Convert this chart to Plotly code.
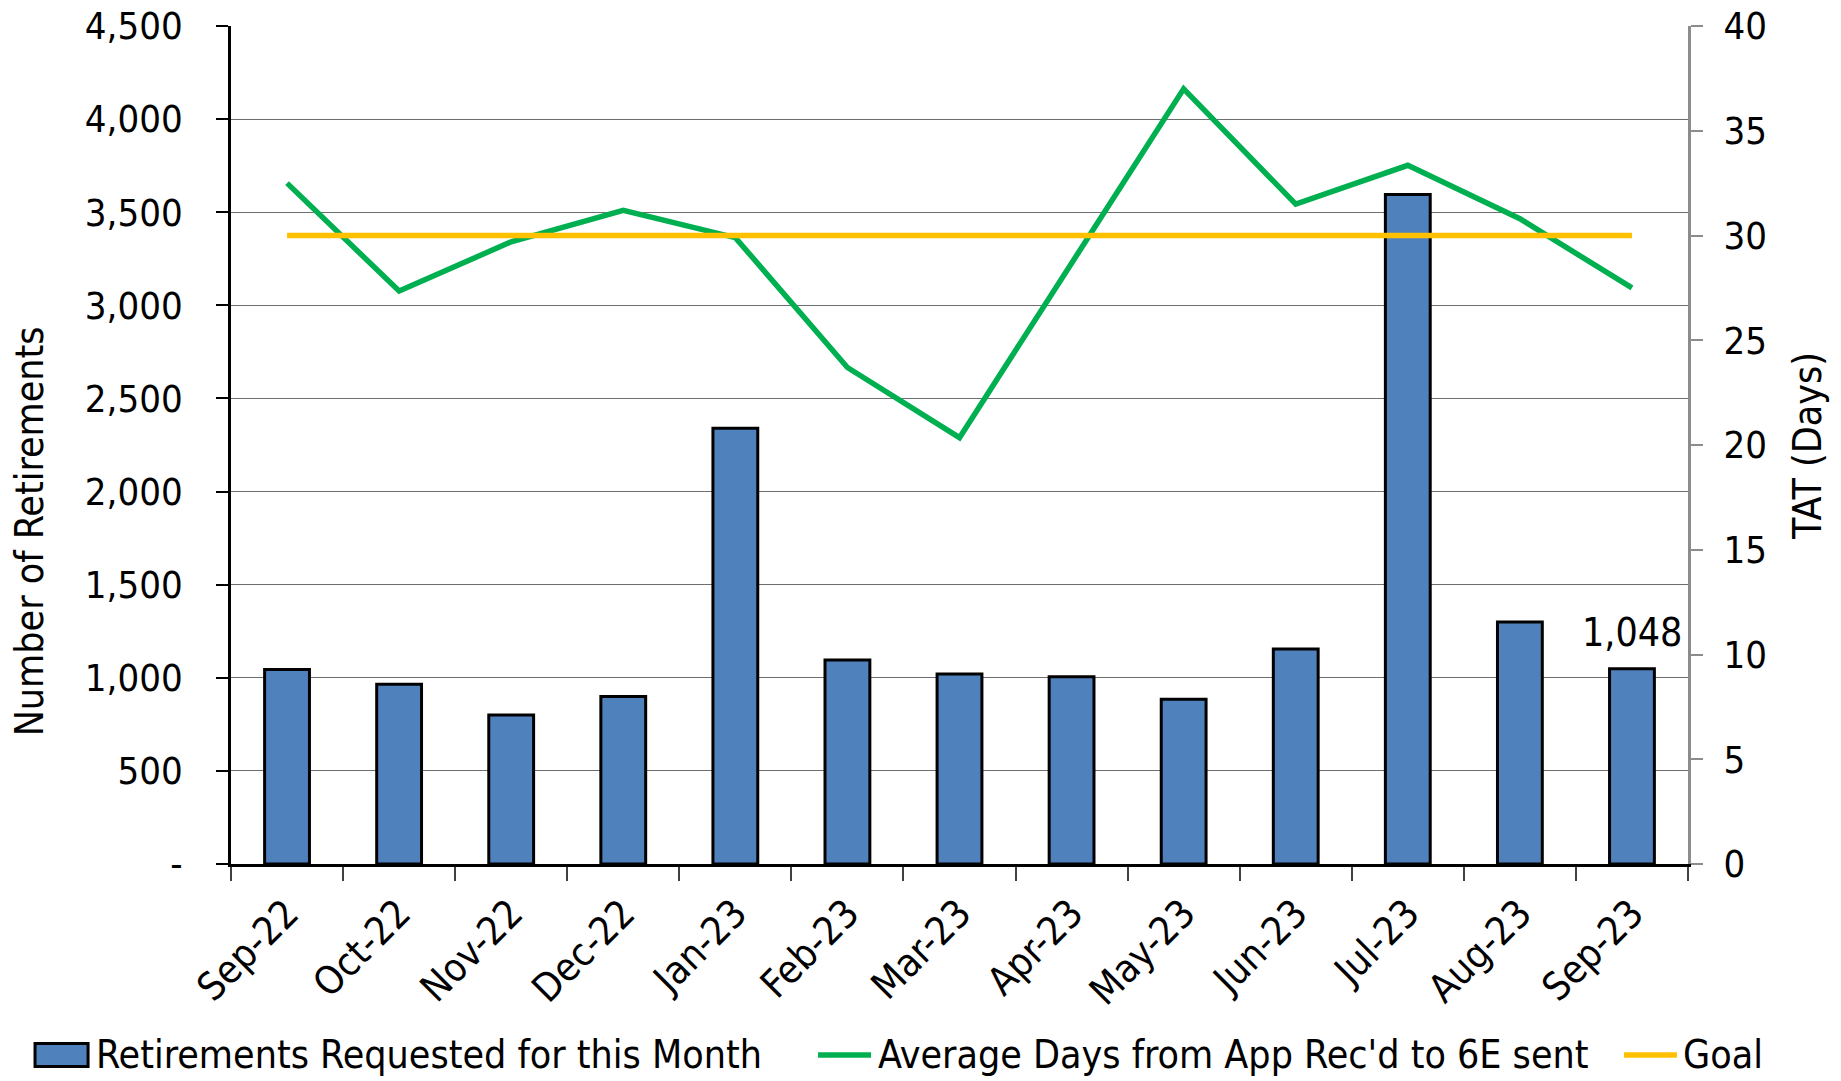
import plotly.graph_objects as go

months = ["Sep-22", "Oct-22", "Nov-22", "Dec-22", "Jan-23", "Feb-23", "Mar-23",
          "Apr-23", "May-23", "Jun-23", "Jul-23", "Aug-23", "Sep-23"]
retirements = [1045, 965, 800, 900, 2340, 1095, 1020, 1005, 885, 1155, 3595, 1300, 1048]
avg_days = [32.5, 27.35, 29.7, 31.2, 29.9, 23.7, 20.35, 28.7, 37.0, 31.5, 33.35, 30.8, 27.5]
goal = [30] * 13

left_ticks = [0, 500, 1000, 1500, 2000, 2500, 3000, 3500, 4000, 4500]
left_ticktext = ["-", "500", "1,000", "1,500", "2,000", "2,500", "3,000", "3,500", "4,000", "4,500"]
right_ticks = [0, 5, 10, 15, 20, 25, 30, 35, 40]

FONT = "DejaVu Sans Condensed, Liberation Sans Narrow, Arial Narrow, sans-serif"
FS = 38
LFS = 39

fig = go.Figure()
fig.add_trace(go.Bar(
    x=months, y=retirements, name="Retirements Requested for this Month",
    marker=dict(color="#4F81BD", line=dict(color="black", width=3)),
    yaxis="y",
))
fig.add_trace(go.Scatter(
    x=months, y=avg_days, name="Average Days from App Rec'd to 6E sent",
    mode="lines", line=dict(color="#00B050", width=5.5), yaxis="y2",
))
fig.add_trace(go.Scatter(
    x=months, y=goal, name="Goal",
    mode="lines", line=dict(color="#FFC000", width=5.5), yaxis="y2",
))

# data label on the last bar
fig.add_annotation(x=months[-1], y=retirements[-1], xref="x", yref="y",
                   text=f"{retirements[-1]:,}", showarrow=False, yshift=36,
                   font=dict(family=FONT, size=LFS, color="black"))

# axis titles
fig.add_annotation(x=-0.1386, y=0.397, xref="paper", yref="paper", text="Number of Retirements",
                   textangle=-90, showarrow=False, xanchor="center", yanchor="middle",
                   font=dict(family=FONT, size=LFS, color="black"))
fig.add_annotation(x=1.0824, y=0.499, xref="paper", yref="paper", text="TAT (Days)",
                   textangle=-90, showarrow=False, xanchor="center", yanchor="middle",
                   font=dict(family=FONT, size=LFS, color="black"))

# custom legend
ly = -0.2279
fig.add_shape(type="rect", xref="paper", yref="paper", x0=-0.1345, x1=-0.0981,
              y0=ly - 0.0137, y1=ly + 0.0137, fillcolor="#4F81BD",
              line=dict(color="black", width=3))
fig.add_annotation(x=-0.094, y=ly, xref="paper", yref="paper", xanchor="left", yanchor="middle",
                   text="Retirements Requested for this Month", showarrow=False,
                   font=dict(family=FONT, size=LFS, color="black"))
fig.add_shape(type="line", xref="paper", yref="paper", x0=0.4029, x1=0.4393, y0=ly, y1=ly,
              line=dict(color="#00B050", width=5.5))
fig.add_annotation(x=0.4427, y=ly, xref="paper", yref="paper", xanchor="left", yanchor="middle",
                   text="Average Days from App Rec'd to 6E sent", showarrow=False,
                   font=dict(family=FONT, size=LFS, color="black"))
fig.add_shape(type="line", xref="paper", yref="paper", x0=0.9561, x1=0.9924, y0=ly, y1=ly,
              line=dict(color="#FFC000", width=5.5))
fig.add_annotation(x=0.9952, y=ly, xref="paper", yref="paper", xanchor="left", yanchor="middle",
                   text="Goal", showarrow=False,
                   font=dict(family=FONT, size=LFS, color="black"))

fig.update_layout(
    width=1841, height=1081,
    margin=dict(l=231, r=153, t=26, b=217),
    paper_bgcolor="white", plot_bgcolor="white",
    showlegend=False,
    bargap=0.6,
    font=dict(family=FONT, size=FS, color="black"),
    xaxis=dict(
        type="category", tickangle=-45, showline=True, linecolor="black", linewidth=2.5,
        ticks="outside", tickson="boundaries", ticklen=14, tickcolor="#404040", tickwidth=1.5,
        ticklabelstandoff=8, showgrid=False, zeroline=False, automargin=False,
        tickfont=dict(family=FONT, size=LFS, color="black"),
    ),
    yaxis=dict(
        range=[0, 4500], tickvals=left_ticks, ticktext=left_ticktext,
        showline=True, linecolor="black", linewidth=2.5,
        ticks="outside", ticklen=12, tickcolor="black", tickwidth=1.5,
        ticklabelstandoff=26, automargin=False,
        showgrid=True, gridcolor="#6E6E6E", gridwidth=1.3, zeroline=False,
        tickfont=dict(family=FONT, size=FS, color="black"),
    ),
    yaxis2=dict(
        range=[0, 40], tickvals=right_ticks, overlaying="y", side="right",
        showline=True, linecolor="#8C8C8C", linewidth=3,
        ticks="outside", ticklen=12, tickcolor="#8C8C8C", tickwidth=1.5,
        ticklabelstandoff=13, automargin=False,
        showgrid=False, zeroline=False,
        tickfont=dict(family=FONT, size=FS, color="black"),
    ),
)

fig.write_html("out.html", config={"displayModeBar": False},
               post_script="document.body.style.margin='0';document.body.style.overflow='hidden';")
